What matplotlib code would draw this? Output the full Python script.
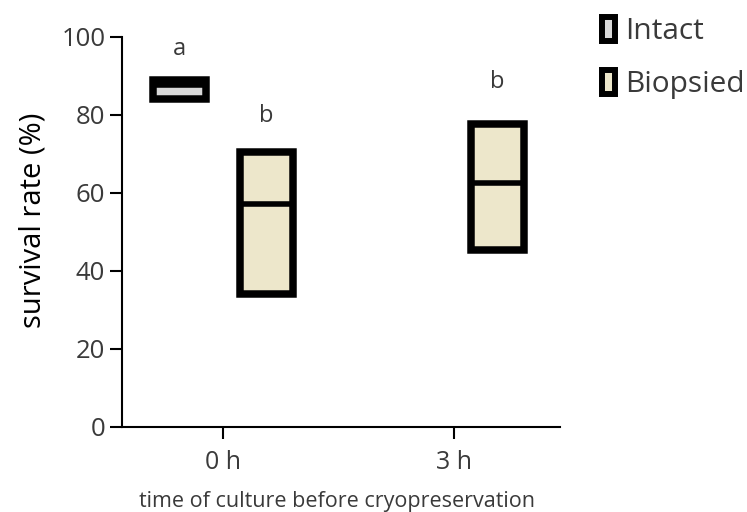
import matplotlib
matplotlib.use("Agg")
import matplotlib.pyplot as plt
from matplotlib.patches import Patch
import numpy as np

plt.rcParams['font.family'] = ['Open Sans', 'DejaVu Sans']

# ---- data ----
categories = ["0 h", "3 h"]
groups = ["Intact", "Biopsied"]
# floating bars: min, max, mean per group per category (None = absent)
intact_min = [84.0, None]
intact_max = [88.9, None]
intact_mean = [87.8, None]
biopsied_min = [34.0, 45.5]
biopsied_max = [70.5, 77.8]
biopsied_mean = [57.2, 62.5]
intact_letters = ["a", None]
biopsied_letters = ["b", "b"]
intact_letter_y = [95.4, None]
biopsied_letter_y = [78.3, 86.8]
yticks = [0, 20, 40, 60, 80, 100]

colors = {"Intact": "#d9d9d9", "Biopsied": "#ede7cb"}
text_color = "#3a3a3a"

fig = plt.figure(figsize=(7.47, 5.12), dpi=100)
ax = fig.add_axes([122/747, 1-427/512, 438/747, 390/512])

x = np.arange(len(categories))
offset = 0.188
width = 0.23
edge_lw = 5.4
mean_lw = 4.0

series = [
    ("Intact", -offset, intact_min, intact_max, intact_mean, intact_letters, intact_letter_y),
    ("Biopsied", offset, biopsied_min, biopsied_max, biopsied_mean, biopsied_letters, biopsied_letter_y),
]
for name, off, mins, maxs, means, letters, ly in series:
    for i in range(len(categories)):
        if mins[i] is None:
            continue
        xc = x[i] + off
        ax.bar(xc, maxs[i] - mins[i], bottom=mins[i], width=width,
               facecolor=colors[name], edgecolor="black", linewidth=edge_lw,
               zorder=3)
        ax.hlines(means[i], xc - width/2, xc + width/2, color="black",
                  linewidth=mean_lw, zorder=4)
        if letters[i]:
            ax.text(xc, ly[i], letters[i], ha="center", va="baseline",
                    fontsize=17, color=text_color)

ax.set_xlim(-0.437, 1.459)
ax.set_ylim(0, 100)
ax.set_xticks(x)
ax.set_xticklabels(categories)
ax.set_yticks(yticks)
ax.set_yticklabels([str(t) for t in yticks])

for s in ["top", "right"]:
    ax.spines[s].set_visible(False)
for s in ["left", "bottom"]:
    ax.spines[s].set_linewidth(1.5)
ax.tick_params(axis="y", length=9, width=1.5, pad=3, labelsize=18.5, colors="black", labelcolor=text_color)
ax.tick_params(axis="x", length=8.5, width=1.5, pad=8, labelsize=18, colors="black", labelcolor=text_color)

ax.set_ylabel("survival rate (%)", fontsize=21, color="black")
ax.yaxis.set_label_coords(-0.17, 0.53)
ax.set_xlabel("time of culture before cryopreservation", fontsize=15.5, color=text_color)
ax.xaxis.set_label_coords(0.49, -0.164)

handles = [Patch(facecolor=colors[g], edgecolor="black", linewidth=4.3, label=g) for g in groups]
fig.legend(handles=handles, loc="upper left", bbox_to_anchor=(602/747, 1-17/512),
           frameon=False, fontsize=21.5, handlelength=0.43, handleheight=0.87,
           handletextpad=0.33, labelspacing=0.78, borderpad=0, borderaxespad=0,
           labelcolor=text_color)

fig.savefig("out.png", dpi=100)
